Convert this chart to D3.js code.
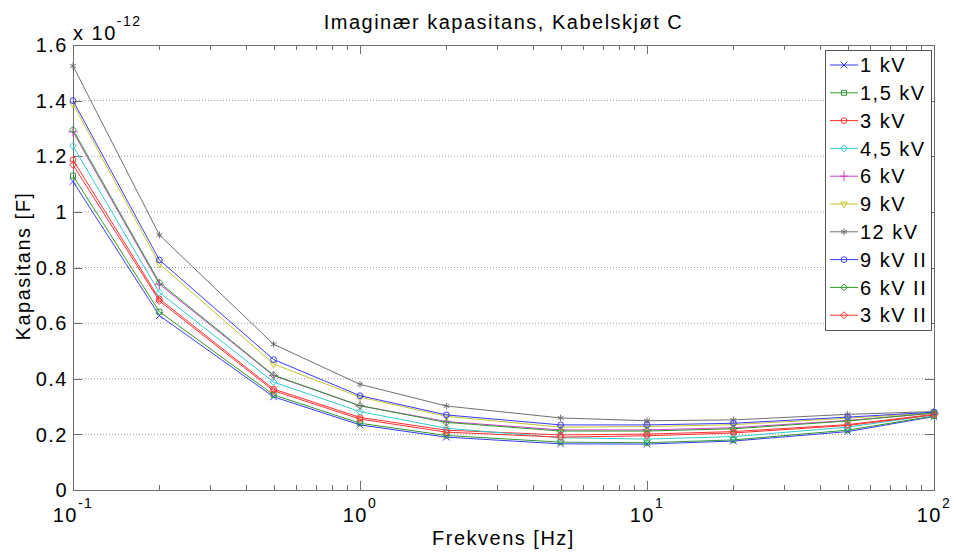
<!DOCTYPE html>
<html>
<head>
<meta charset="utf-8">
<script src="https://cdn.jsdelivr.net/npm/d3@7/dist/d3.min.js"></script>
<style>
  body { margin: 0; background: #fff; }
  text { font-family: "Liberation Sans", Arial, sans-serif; fill: #000; }
</style>
</head>
<body>
<div id="chart"></div>
<script>
// frequencies in Hz, values in units of 1e-12 F
var freqs = [0.1, 0.2, 0.5, 1, 2, 5, 10, 20, 50, 100];

var s1kV    = [1.109, 0.627, 0.335, 0.234, 0.190, 0.166, 0.165, 0.176, 0.210, 0.264];
var s1_5kV  = [1.130, 0.641, 0.342, 0.240, 0.196, 0.172, 0.170, 0.180, 0.215, 0.266];
var s3kV    = [1.187, 0.687, 0.363, 0.261, 0.215, 0.198, 0.201, 0.210, 0.235, 0.272];
var s4_5kV  = [1.237, 0.710, 0.388, 0.282, 0.222, 0.188, 0.183, 0.192, 0.226, 0.270];
var s6kV    = [1.288, 0.740, 0.411, 0.303, 0.246, 0.216, 0.216, 0.224, 0.250, 0.276];
var s9kV    = [1.388, 0.813, 0.453, 0.334, 0.265, 0.226, 0.228, 0.235, 0.258, 0.278];
var s12kV   = [1.525, 0.917, 0.524, 0.380, 0.302, 0.259, 0.249, 0.252, 0.272, 0.282];
var s9kVII  = [1.400, 0.827, 0.469, 0.339, 0.270, 0.234, 0.234, 0.240, 0.262, 0.280];
var s6kVII  = [1.295, 0.746, 0.413, 0.303, 0.243, 0.212, 0.212, 0.220, 0.248, 0.277];
var s3kVII  = [1.169, 0.680, 0.357, 0.255, 0.208, 0.190, 0.195, 0.205, 0.232, 0.270];

var seriesNames = ["1 kV", "1,5 kV", "3 kV", "4,5 kV", "6 kV", "9 kV", "12 kV", "9 kV II", "6 kV II", "3 kV II"];
var seriesValues = [s1kV, s1_5kV, s3kV, s4_5kV, s6kV, s9kV, s12kV, s9kVII, s6kVII, s3kVII];

var yTicks = [0, 0.2, 0.4, 0.6, 0.8, 1, 1.2, 1.4, 1.6];
var xTicks = [0.1, 1, 10, 100];

var titleText = "Imaginær kapasitans, Kabelskjøt C",
    xLabel = "Frekvens [Hz]",
    yLabel = "Kapasitans [F]";

var colors = ["#3a3aff", "#2f9a2f", "#ff3030", "#30cccc", "#d040d0", "#c4c430", "#707070", "#3a3aff", "#2f9a2f", "#ff3030"],
    markers = ["times", "square", "circle", "diamond", "plus", "tridown", "asterisk", "circle", "diamond", "diamond"];

var W = 956, H = 556,
    margin = { top: 45, right: 22, bottom: 66, left: 73 },
    width = W - margin.left - margin.right,
    height = H - margin.top - margin.bottom,
    letterSp = "1.5px";

var x = d3.scaleLog().domain([0.1, 100]).range([0, width]),
    y = d3.scaleLinear().domain([0, 1.6]).range([height, 0]);

var svg = d3.select("#chart").append("svg")
    .attr("width", W)
    .attr("height", H);

var g = svg.append("g")
    .attr("transform", "translate(" + margin.left + "," + margin.top + ")");

function markerPath(type) {
  var sym;
  if (type === "times") sym = d3.symbolTimes || d3.symbolCross;
  else if (type === "square") sym = d3.symbolSquare2 || d3.symbolSquare;
  else if (type === "circle") sym = d3.symbolCircle;
  else if (type === "diamond") sym = d3.symbolDiamond2 || d3.symbolDiamond;
  else if (type === "plus") sym = d3.symbolPlus || d3.symbolCross;
  else if (type === "tridown") sym = d3.symbolTriangle2 || d3.symbolTriangle;
  else sym = d3.symbolAsterisk || d3.symbolStar;
  var size = (type === "circle") ? 26 : (type === "diamond" ? 30 : 32);
  return d3.symbol().type(sym).size(size)();
}

// grid
g.append("g").attr("class", "grid")
  .selectAll("line")
  .data(yTicks.filter(function(d) { return d > 0 && d < 1.6; }))
  .enter().append("line")
    .attr("x1", 0).attr("x2", width)
    .attr("y1", function(d) { return y(d); })
    .attr("y2", function(d) { return y(d); })
    .attr("stroke", "#9a9a9a")
    .attr("stroke-width", 1)
    .attr("stroke-dasharray", "1,2");

// ticks (inside, on all four sides)
var minor = [];
[0.1, 1, 10].forEach(function(dec) {
  for (var k = 2; k <= 9; k++) minor.push(dec * k);
});
var tickG = g.append("g").attr("stroke", "#6f6f6f").attr("stroke-width", 1);
[{ v: xTicks, len: 9 }, { v: minor, len: 5 }].forEach(function(set) {
  set.v.forEach(function(d) {
    var px = Math.round(x(d)) + 0.5;
    tickG.append("line").attr("x1", px).attr("x2", px).attr("y1", height).attr("y2", height - set.len);
    tickG.append("line").attr("x1", px).attr("x2", px).attr("y1", 0).attr("y2", set.len);
  });
});
yTicks.forEach(function(d) {
  var py = Math.round(y(d)) + 0.5;
  tickG.append("line").attr("x1", 0).attr("x2", 9).attr("y1", py).attr("y2", py);
  tickG.append("line").attr("x1", width).attr("x2", width - 9).attr("y1", py).attr("y2", py);
});

// box
g.append("rect")
  .attr("x", 0.5).attr("y", 0.5)
  .attr("width", width).attr("height", height)
  .attr("fill", "none")
  .attr("stroke", "#6f6f6f")
  .attr("stroke-width", 1);

// y tick labels
g.append("g").selectAll("text")
  .data(yTicks)
  .enter().append("text")
    .attr("x", -5)
    .attr("y", function(d) { return y(d); })
    .attr("dy", "0.36em")
    .attr("text-anchor", "end")
    .style("font-size", "20px")
    .style("letter-spacing", letterSp)
    .text(d3.format("~g"));

// x tick labels as 10^n
var xl = g.append("g").selectAll("text")
  .data(xTicks)
  .enter().append("text")
    .attr("x", function(d) { return x(d); })
    .attr("y", height + 32)
    .attr("text-anchor", "middle")
    .style("font-size", "20px")
    .style("letter-spacing", letterSp);
xl.append("tspan").text("10");
xl.append("tspan")
  .attr("dy", "-14")
  .style("font-size", "14px")
  .text(function(d) { return Math.round(Math.log10(d)); });

// exponent multiplier
var mult = svg.append("text")
  .attr("x", margin.left)
  .attr("y", 40)
  .style("font-size", "20px")
  .style("letter-spacing", letterSp);
mult.append("tspan").text("x 10");
mult.append("tspan").attr("dy", "-14").style("font-size", "14px").text("-12");

// lines and markers
var line = d3.line()
  .x(function(d) { return x(d[0]); })
  .y(function(d) { return y(d[1]); });

seriesValues.forEach(function(vals, i) {
  var pts = freqs.map(function(f, j) { return [f, vals[j]]; });
  var sg = g.append("g").attr("class", "series");
  sg.append("path")
    .datum(pts)
    .attr("d", line)
    .attr("fill", "none")
    .attr("stroke", colors[i])
    .attr("stroke-width", 1);
  sg.selectAll("path.mk")
    .data(pts)
    .enter().append("path")
      .attr("class", "mk")
      .attr("d", markerPath(markers[i]))
      .attr("transform", function(d) {
        return "translate(" + x(d[0]) + "," + y(d[1]) + ")" + (markers[i] === "tridown" ? " rotate(180)" : "");
      })
      .attr("fill", "none")
      .attr("stroke", colors[i])
      .attr("stroke-width", 1);
});

// legend
var legX = 825, legY = 50, legW = 106, rowH = 27.8;
var leg = svg.append("g");
leg.append("rect")
  .attr("x", legX + 0.5).attr("y", legY + 0.5)
  .attr("width", legW).attr("height", 280)
  .attr("fill", "#fff")
  .attr("stroke", "#555")
  .attr("stroke-width", 1);
seriesNames.forEach(function(name, i) {
  var cy = legY + 15 + i * rowH;
  leg.append("line")
    .attr("x1", legX + 5).attr("x2", legX + 33)
    .attr("y1", cy).attr("y2", cy)
    .attr("stroke", colors[i]).attr("stroke-width", 1);
  leg.append("path")
    .attr("d", markerPath(markers[i]))
    .attr("transform", "translate(" + (legX + 19) + "," + cy + ")" + (markers[i] === "tridown" ? " rotate(180)" : ""))
    .attr("fill", "none")
    .attr("stroke", colors[i]);
  leg.append("text")
    .attr("x", legX + 35)
    .attr("y", cy)
    .attr("dy", "0.36em")
    .style("font-size", "20px")
    .style("letter-spacing", letterSp)
    .text(name);
});

// title and axis labels
svg.append("text")
  .attr("x", margin.left + width / 2)
  .attr("y", 29)
  .attr("text-anchor", "middle")
  .style("font-size", "20px")
  .style("letter-spacing", letterSp)
  .text(titleText);

svg.append("text")
  .attr("x", margin.left + width / 2)
  .attr("y", 545)
  .attr("text-anchor", "middle")
  .style("font-size", "20px")
  .style("letter-spacing", letterSp)
  .text(xLabel);

svg.append("text")
  .attr("transform", "translate(30," + 266 + ") rotate(-90)")
  .attr("text-anchor", "middle")
  .style("font-size", "20px")
  .style("letter-spacing", letterSp)
  .text(yLabel);
</script>
</body>
</html>
